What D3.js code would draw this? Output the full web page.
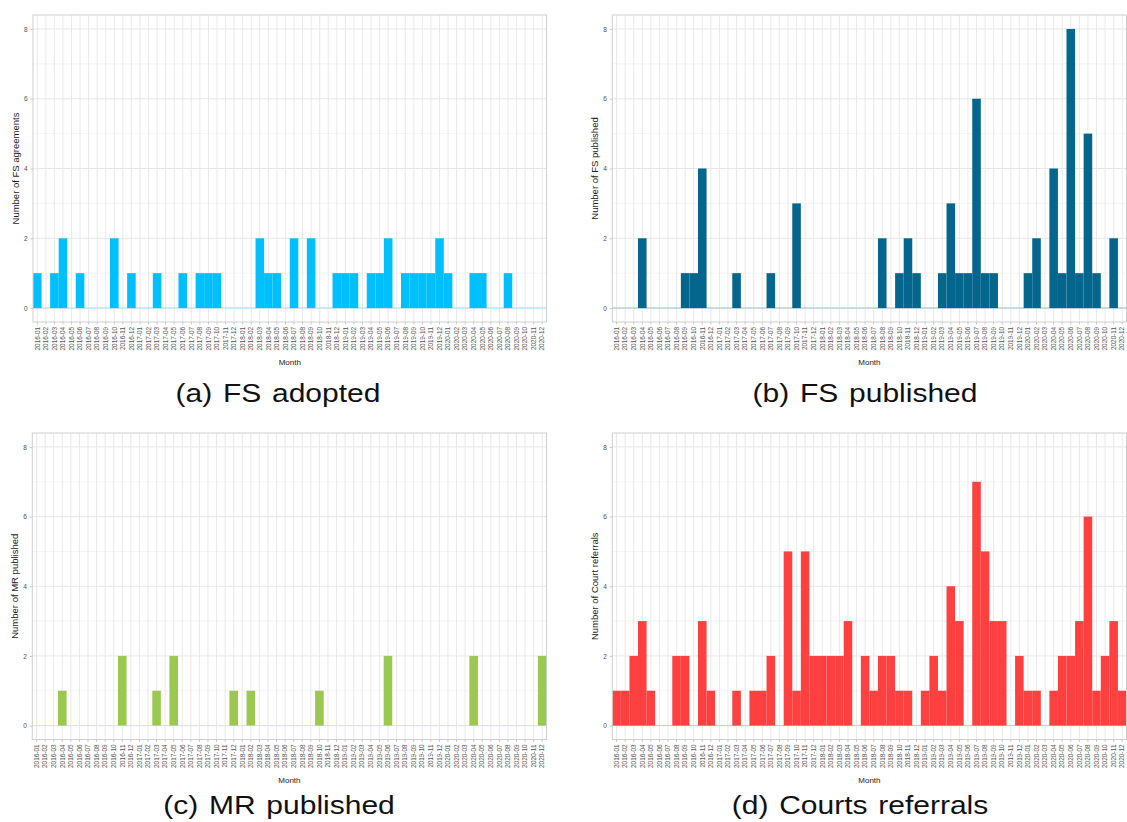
<!DOCTYPE html>
<html>
<head>
<meta charset="utf-8">
<script src="https://cdn.jsdelivr.net/npm/d3@7"></script>
<style>
  html, body { margin: 0; padding: 0; background: #fff; }
  svg { display: block; }
</style>
</head>
<body>
<svg id="chart" width="1127" height="822"></svg>
<script>
// Months 2016-01 .. 2020-12
const months = [
  "2016-01","2016-02","2016-03","2016-04","2016-05","2016-06","2016-07","2016-08","2016-09","2016-10","2016-11","2016-12",
  "2017-01","2017-02","2017-03","2017-04","2017-05","2017-06","2017-07","2017-08","2017-09","2017-10","2017-11","2017-12",
  "2018-01","2018-02","2018-03","2018-04","2018-05","2018-06","2018-07","2018-08","2018-09","2018-10","2018-11","2018-12",
  "2019-01","2019-02","2019-03","2019-04","2019-05","2019-06","2019-07","2019-08","2019-09","2019-10","2019-11","2019-12",
  "2020-01","2020-02","2020-03","2020-04","2020-05","2020-06","2020-07","2020-08","2020-09","2020-10","2020-11","2020-12"
];

const fsAdopted = [
  1,0,1,2,0,1,0,0,0,2,0,1,
  0,0,1,0,0,1,0,1,1,1,0,0,
  0,0,2,1,1,0,2,0,2,0,0,1,
  1,1,0,1,1,2,0,1,1,1,1,2,
  1,0,0,1,1,0,0,1,0,0,0,0
];
const fsPublished = [
  0,0,0,2,0,0,0,0,1,1,4,0,
  0,0,1,0,0,0,1,0,0,3,0,0,
  0,0,0,0,0,0,0,2,0,1,2,1,
  0,0,1,3,1,1,6,1,1,0,0,0,
  1,2,0,4,1,8,1,5,1,0,2,0
];
const mrPublished = [
  0,0,0,1,0,0,0,0,0,0,2,0,
  0,0,1,0,2,0,0,0,0,0,0,1,
  0,1,0,0,0,0,0,0,0,1,0,0,
  0,0,0,0,0,2,0,0,0,0,0,0,
  0,0,0,2,0,0,0,0,0,0,0,2
];
const courtReferrals = [
  1,1,2,3,1,0,0,2,2,0,3,1,
  0,0,1,0,1,1,2,0,5,1,5,2,
  2,2,2,3,0,2,1,2,2,1,1,0,
  1,2,1,4,3,0,7,5,3,3,0,2,
  1,1,0,1,2,2,3,6,1,2,3,1
];

const yTicks = [0, 2, 4, 6, 8];
const yMinor = [1, 3, 5, 7];

const panels = [
  { values: fsAdopted,      color: "#00BFFF", zero: "#9fe3fb", yTitle: "Number of FS agreements", caption: "(a) FS adopted",
    left: 33,   top: 15,  width: 513.5, height: 307, captionX: 278, captionY: 402 },
  { values: fsPublished,    color: "#05668D", zero: "#9cc3d2", yTitle: "Number of FS published",  caption: "(b) FS published",
    left: 612.3, top: 15,  width: 514.2, height: 307, captionX: 865, captionY: 402 },
  { values: mrPublished,    color: "#9BC850", zero: "#d9ecbf", yTitle: "Number of MR published",  caption: "(c) MR published",
    left: 32.3, top: 433, width: 514.2, height: 306.5, captionX: 279, captionY: 814 },
  { values: courtReferrals, color: "#FF4040", zero: "#ffb8b8", yTitle: "Number of Court referrals", caption: "(d) Courts referrals",
    left: 612.3, top: 433, width: 514.2, height: 306.5, captionX: 860, captionY: 814 }
];

const svg = d3.select("#chart");
const FONT = "'Liberation Sans', Arial, Helvetica, sans-serif";

panels.forEach(p => {
  const g = svg.append("g").attr("transform", `translate(${p.left},${p.top})`);

  const x = d3.scaleBand().domain(months).range([0, p.width]).padding(0);
  const y = d3.scaleLinear().domain([-0.4, 8.4]).range([p.height, 0]);

  // panel background
  g.append("rect").attr("width", p.width).attr("height", p.height).attr("fill", "#fff");

  // minor horizontal grid
  g.selectAll(".ymin").data(yMinor).join("line")
    .attr("x1", 0).attr("x2", p.width)
    .attr("y1", d => y(d)).attr("y2", d => y(d))
    .attr("stroke", "#f0f0f0").attr("stroke-width", 0.7);

  // major horizontal grid
  g.selectAll(".ymaj").data(yTicks).join("line")
    .attr("x1", 0).attr("x2", p.width)
    .attr("y1", d => y(d)).attr("y2", d => y(d))
    .attr("stroke", "#e4e4e4").attr("stroke-width", 0.9);

  // vertical grid at month centres
  g.selectAll(".xmaj").data(months).join("line")
    .attr("x1", d => x(d) + x.bandwidth() / 2).attr("x2", d => x(d) + x.bandwidth() / 2)
    .attr("y1", 0).attr("y2", p.height)
    .attr("stroke", "#e6e6e6").attr("stroke-width", 0.9);

  // zero baseline
  g.append("line")
    .attr("x1", 0).attr("x2", p.width)
    .attr("y1", y(0)).attr("y2", y(0))
    .attr("stroke", p.zero).attr("stroke-width", 1);

  // bars
  g.selectAll(".bar").data(p.values.map((v, i) => ({ m: months[i], v })).filter(d => d.v > 0)).join("rect")
    .attr("x", d => x(d.m))
    .attr("width", x.bandwidth())
    .attr("y", d => y(d.v))
    .attr("height", d => y(0) - y(d.v))
    .attr("fill", p.color);

  // panel border
  g.append("rect").attr("width", p.width).attr("height", p.height)
    .attr("fill", "none").attr("stroke", "#cfcfcf").attr("stroke-width", 1);

  // y axis
  const yAxis = g.append("g").call(d3.axisLeft(y).tickValues(yTicks).tickSize(2.5).tickPadding(3));
  yAxis.select(".domain").remove();
  yAxis.selectAll(".tick line").attr("stroke", "#c8c8c8");
  yAxis.selectAll(".tick text").attr("fill", "#4d4d4d").style("font-family", FONT).style("font-size", "6.5px");

  // x axis
  const xAxis = g.append("g").attr("transform", `translate(0,${p.height})`)
    .call(d3.axisBottom(x).tickSize(2.5).tickPadding(2));
  xAxis.select(".domain").remove();
  xAxis.selectAll(".tick line").attr("stroke", "#c8c8c8");
  xAxis.selectAll(".tick text")
    .attr("fill", "#555")
    .style("font-family", FONT).style("font-size", "6.4px")
    .attr("transform", "rotate(-90)")
    .attr("text-anchor", "end")
    .attr("x", -5).attr("y", 0).attr("dy", "0.35em");

  // axis titles
  g.append("text")
    .attr("transform", `translate(${-14.5},${y(4)}) rotate(-90)`)
    .attr("text-anchor", "middle")
    .style("font-family", FONT).style("font-size", "9.5px").attr("fill", "#1a1a1a")
    .text(p.yTitle);

  g.append("text")
    .attr("x", p.width / 2).attr("y", p.height + 43)
    .attr("text-anchor", "middle")
    .style("font-family", FONT).style("font-size", "8px").attr("fill", "#1a1a1a")
    .text("Month");

  // caption (glyphs drawn slightly wide)
  svg.append("text")
    .attr("transform", `translate(${p.captionX},${p.captionY}) scale(1.2,1)`)
    .attr("text-anchor", "middle")
    .style("font-family", FONT).style("font-size", "25px").attr("fill", "#111")
    .style("word-spacing", "2px")
    .text(p.caption);
});
</script>
</body>
</html>
